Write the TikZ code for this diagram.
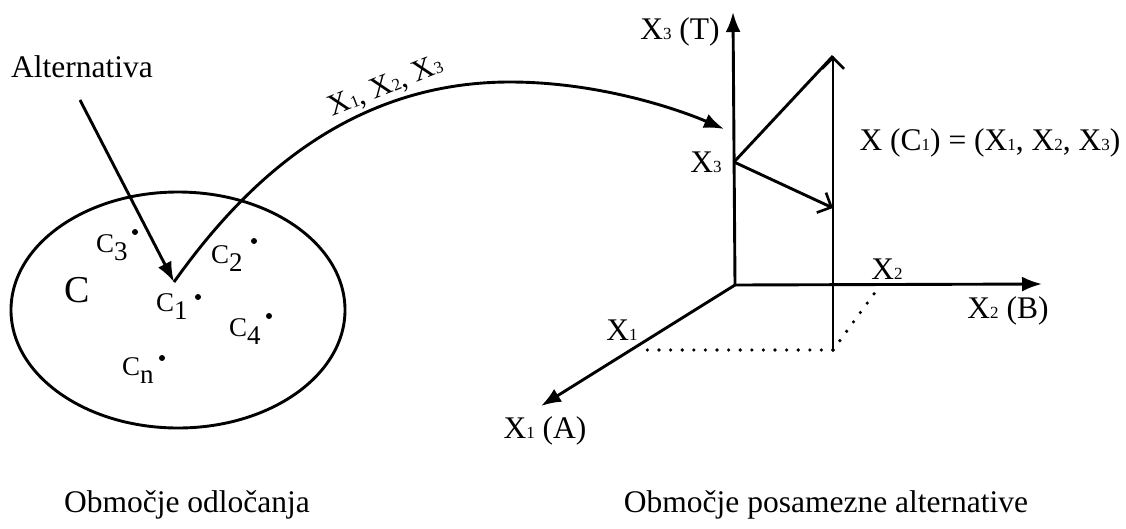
\documentclass[tikz,border=0pt]{standalone}
\usepackage{fontspec}
\setmainfont{Liberation Serif}
\usetikzlibrary{arrows.meta}
\newcommand\sbs[1]{{\fontsize{17}{20}\selectfont #1}}
\newcommand\csub[1]{\raisebox{-0.32em}{#1}}
\tikzset{
  ln/.style={line width=2.9pt, draw=black},
  axis/.style={ln, -{Latex[length=20pt,width=15pt]}},
  barb/.style={ln, -{Straight Barb[length=11pt,width=22pt,line width=2.6pt]}},
  dots/.style={line width=3.6pt, line cap=round, dash pattern=on 0pt off 11.6pt},
  lbl/.style={inner sep=0pt, anchor=base, font=\fontsize{31.5}{36}\selectfont},
  clbl/.style={inner sep=0pt, anchor=base west, font=\fontsize{27}{30}\selectfont},
  pt/.style={circle, fill=black, inner sep=0pt, minimum size=6pt},
}
\begin{document}
\begin{tikzpicture}[x=1pt,y=-1pt]
\useasboundingbox (0,0) rectangle (1126,528);
% left part
\node[lbl] (alt) at (82,77) {Alternativa};
\coordinate (altstart) at (80,100);
\coordinate (c1tip) at (174,282);
\draw[ln] (178,310) ellipse [x radius=167, y radius=118];
\node[clbl, font=\fontsize{38}{40}\selectfont] (C) at (64,302) {C};
\node[clbl] (c3) at (96,252) {C\csub{3}};
\node[clbl] (c2) at (211,263) {C\csub{2}};
\node[clbl] (c1) at (156,311) {C\csub{1}};
\node[clbl] (c4) at (229,336) {C\csub{4}};
\node[clbl] (cn) at (122,375) {C\csub{n}};
\node[pt] (d3) at (135,232) {};
\node[pt] (d2) at (254,241) {};
\node[pt] (d1) at (198,297) {};
\node[pt] (d4) at (269,316) {};
\node[pt] (dn) at (162,358) {};
\draw[axis] (altstart) -- (c1tip);
% axes
\coordinate (O) at (735,285);
\coordinate (x3top) at (733,12);
\coordinate (x2end) at (1042,284);
\coordinate (x1end) at (541,406);
\coordinate (X3) at (734,162);
\coordinate (P) at (833,350);
\coordinate (Ptop) at (833,56);
\coordinate (Pmid) at (833,208);
\coordinate (x1pt) at (643,350);
\coordinate (x2pt) at (879,287);
\draw[axis] (O) -- (x3top);
\draw[axis] (O) -- (x2end);
\draw[axis] (O) -- (x1end);
\draw[ln] (X3) -- (Ptop);
\draw[barb] (P) -- (Ptop);
\draw[barb] (X3) -- (Pmid);
\draw[dots] (P) -- (x1pt);
\draw[dots] (P) -- (x2pt);
% curved connector
\coordinate (curvetip) at (724,129);
\draw[axis] (c1tip) .. controls (236,195) and (340,82) .. (510,82)
  .. controls (600,82) and (680,110) .. (curvetip);
\node[inner sep=0pt, rotate=22, font=\fontsize{30}{36}\selectfont] (xlist) at (386,87) {X\sbs{1},\ X\sbs{2},\ X\sbs{3}};
% labels right
\node[lbl] (x3t) at (680,39) {X\sbs{3} (T)};
\node[lbl] (x3l) at (706,172) {X\sbs{3}};
\node[lbl] (xc) at (990,150) {X (C\sbs{1}) = (X\sbs{1}, X\sbs{2}, X\sbs{3})};
\node[lbl] (x2l) at (887,279) {X\sbs{2}};
\node[lbl] (x2b) at (1008,318) {X\sbs{2} (B)};
\node[lbl] (x1l) at (622,340) {X\sbs{1}};
\node[lbl] (x1a) at (545,438) {X\sbs{1} (A)};
\node[lbl] (b1) at (187,512) {Območje odločanja};
\node[lbl] (b2) at (826,512) {Območje posamezne alternative};
\end{tikzpicture}
\end{document}
